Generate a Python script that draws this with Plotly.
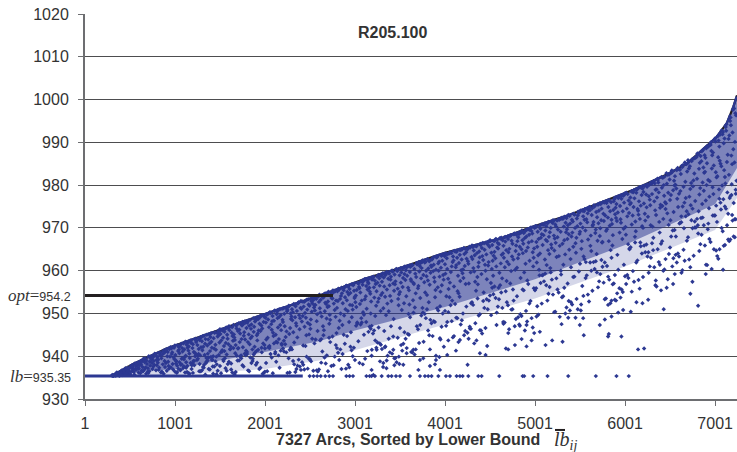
import plotly.graph_objects as go

TITLE = "R205.100"
OPT = 954.2
LB = 935.35
X_TICKS = [1, 1001, 2001, 3001, 4001, 5001, 6001, 7001]
Y_TICKS = [930, 940, 950, 960, 970, 980, 990, 1000, 1010, 1020]

# upper boundary of the cloud (sorted lower bound)
env_x = [314, 536, 906, 1276, 1646, 2016, 2386, 2756, 3126, 3500, 4001, 4612, 4979, 5350, 5723, 6094, 6464, 6686, 6834, 7020, 7131, 7205, 7244]
env_y = [935.6, 938.2, 941.8, 944.6, 947.3, 950.0, 952.6, 955.3, 958.2, 960.6, 964.2, 967.5, 970.3, 972.8, 975.9, 978.9, 982.5, 985.0, 987.8, 991.3, 994.5, 998.4, 1001]

# lower edges of the dense parts of the cloud
wide_x = [314, 1000, 2000, 2600, 3000, 4000, 5000, 6000, 7000, 7244]
wide_y = [935.4, 935.6, 937, 939, 941.5, 947.5, 953.5, 961, 969.5, 977]
core_x = [380, 1000, 2000, 2600, 3000, 4000, 5000, 6000, 7000, 7244]
core_y = [936, 937, 941, 943.5, 946, 951.5, 958, 966, 975.5, 984]

# arcs sitting exactly on the lower bound
floor_x = [2497, 2540, 2580, 2620, 2670, 2715, 2756, 2904, 2940, 2978, 3127, 3163, 3185, 3222, 3297, 3370, 3407, 3456, 3500, 3611, 3722, 3777, 3814, 3851, 3926, 4011, 4055, 4129, 4166, 4196, 4259, 4370, 4407, 4603, 4862, 4880, 4980, 5139, 5369, 5676, 5905, 6042]

# isolated arcs read individually
sparse_x = [6145, 6212, 6812, 6726, 6749, 6534, 6553, 6342, 6430, 6257, 6194, 6127, 6064, 5979, 5924, 5850, 5776, 5720, 5812, 5887, 5850, 5960, 5820, 5812, 5542, 5498, 5535, 5509, 5369, 5295, 5306, 5191, 5117, 5054, 4991, 4962, 4851, 4906, 4777, 4703, 4677, 4469, 4388, 4451, 4122, 4025, 4251, 3944, 3900, 3889, 3833, 3759, 3722, 3704, 3537, 3493, 3352, 3278, 3315, 3437, 3204, 3185, 4832, 4906, 5017, 4647, 4703, 4573, 4388, 4277, 4166, 4037, 3944, 3833, 3648, 3574, 3426, 3333, 3241, 3185, 6897, 6627, 7089, 7170, 7220, 7190, 7230, 7110, 7050]
sparse_y = [941.6, 941.8, 951.8, 954.6, 957.4, 956.9, 959.2, 957.7, 951.0, 953.2, 952.4, 952.6, 950.4, 950.8, 950.2, 949.3, 948.6, 947.3, 952.0, 953.2, 953.0, 944.6, 945.2, 944.6, 944.9, 947.3, 948.9, 950.7, 949.0, 947.5, 943.4, 943.7, 942.6, 945.7, 945.4, 943.7, 944.0, 942.3, 942.6, 941.6, 941.8, 942.4, 940.7, 940.3, 941.3, 940.3, 938.0, 936.8, 939.1, 938.1, 937.7, 939.5, 939.1, 936.8, 938.0, 938.2, 939.0, 938.8, 938.4, 939.5, 935.6, 936.8, 947.1, 947.3, 949.3, 948.0, 945.4, 947.3, 946.1, 946.5, 943.8, 943.7, 944.2, 941.6, 941.5, 940.7, 941.5, 942.1, 941.5, 940.1, 959.2, 959.5, 960.2, 967.3, 967.8, 973.0, 972.0, 966.0, 965.0]

# successive runs of arcs, ten values per row
arcs_0300 = [935.5,935.4,935.6,935.5,935.4,935.6,935.5,935.6,935.4,935.6,
935.7,936.1,935.5,935.9,936.2,935.6,936.0,935.8,936.2,935.5,
936.6,935.9,936.3,935.6,936.7,936.1,935.8,936.5,936.2,936.6,
936.4,937.2,935.7,936.9,937.0,936.2,937.3,935.9,936.6,937.1,
937.6,936.5,937.1,935.8,937.8,936.9,936.1,937.4,937.7,936.3,
938.2,937.0,936.2,938.4,937.7,935.7,938.0,936.8,938.3,937.3,
937.5,938.8,936.6,938.1,938.9,936.0,937.9,938.5,937.1,936.4,
939.3,936.9,938.6,939.5,937.4,935.9,939.0,938.2,936.3,939.4,
938.7,939.9,937.2,936.5,939.6,938.4,940.0,937.8,939.2,936.1,
940.4,938.0,939.7,936.7,940.6,937.6,939.1,940.2,938.9,937.0]
arcs_0800 = [939.8,940.9,937.3,938.5,936.2,940.6,939.2,937.9,940.2,936.8,
941.3,938.1,940.4,936.4,939.5,941.1,937.5,938.9,940.8,935.9,
937.1,941.7,939.9,938.4,941.4,936.6,940.0,941.0,938.7,937.7,
942.1,940.5,936.9,939.3,941.8,938.2,942.0,937.4,940.9,939.7,
938.8,942.5,941.2,936.1,940.3,942.2,937.8,939.0,941.5,942.6,
941.9,939.4,942.9,938.0,936.7,942.4,940.7,943.0,937.2,941.1,
943.2,937.6,941.6,939.8,943.4,940.1,938.6,942.7,936.3,942.0,
940.6,943.5,938.3,942.3,943.7,937.0,941.3,939.6,943.1,941.9,
943.9,941.0,939.1,944.1,937.9,942.8,943.3,940.8,938.9,943.6,
942.1,944.4,940.2,943.8,936.5,941.7,944.2,939.4,942.6,944.5]
arcs_1300 = [944.7,941.4,943.5,938.4,944.0,942.9,940.3,944.8,937.3,942.2,
939.7,945.1,943.0,941.2,944.5,938.7,945.0,942.5,940.6,943.9,
945.5,943.4,937.6,941.8,945.3,939.2,944.2,945.6,942.0,940.0,
941.5,945.8,944.6,939.9,943.2,945.9,938.1,942.7,944.9,945.4,
946.2,943.7,940.9,945.2,946.3,942.4,938.9,944.3,946.0,941.1,
944.1,946.6,942.8,945.7,939.5,946.4,943.1,946.7,940.4,945.0,
947.0,941.7,945.5,943.6,946.9,938.3,944.7,946.1,942.3,946.8,
943.8,947.3,946.5,940.7,945.1,947.4,942.6,944.4,939.0,947.1,
947.6,945.3,943.3,946.2,947.7,941.9,945.9,947.2,944.0,940.2,
946.6,948.0,942.1,947.5,944.8,945.6,948.1,943.9,947.9,941.3]
arcs_1800 = [948.3,945.1,947.1,942.8,948.5,944.2,946.4,940.5,947.8,943.3,
946.9,948.8,941.6,945.7,948.1,944.6,948.9,942.2,947.4,939.4,
949.1,946.0,943.7,948.4,949.2,945.3,941.2,947.6,948.7,944.9,
947.2,949.5,945.9,942.6,949.3,948.0,943.0,949.6,946.5,940.9,
949.9,944.3,948.6,950.0,946.8,941.8,949.0,947.9,943.9,949.7,
945.5,950.3,947.5,949.4,942.4,950.1,948.2,944.7,950.2,946.2,
950.6,948.9,943.4,950.7,946.7,949.8,941.0,948.3,950.4,945.0,
947.3,951.0,949.2,944.0,950.9,948.5,951.1,942.9,946.1,949.6,
951.4,945.8,950.5,948.0,951.2,943.6,949.9,947.0,951.3,944.5,
950.8,951.8,946.6,949.3,951.6,941.5,948.7,951.5,945.2,950.0]
arcs_2300 = [952.2,949.1,951.0,945.6,952.0,947.7,950.3,943.2,951.7,948.4,
946.3,952.5,950.6,948.9,952.6,944.4,951.3,949.6,952.3,947.1,
952.9,950.1,946.9,952.7,951.6,942.5,949.4,952.8,948.1,951.1,
953.2,950.9,947.8,953.3,952.1,945.1,951.8,953.0,949.0,944.9,
953.6,951.4,948.6,952.4,953.5,946.4,950.4,953.1,947.4,952.9,
954.0,949.8,953.8,951.9,945.9,953.4,950.7,954.0,948.2,952.0,
951.2,954.4,952.7,947.0,953.9,954.2,949.3,944.0,953.2,950.2,
954.7,952.2,948.8,954.5,951.5,953.7,946.1,954.6,950.5,952.5,
953.6,955.1,949.7,954.8,952.8,947.6,954.3,955.0,951.7,948.5,
955.4,953.0,950.8,954.9,945.4,955.2,952.3,953.5,949.2,955.3]
arcs_2800 = [955.6,952.9,954.1,948.3,955.8,951.3,953.4,946.6,955.2,950.0,
953.8,956.1,949.5,955.4,955.9,952.4,947.3,954.7,956.0,951.0,
956.5,953.1,955.0,950.6,956.3,954.4,948.0,955.7,952.0,956.4,
951.9,956.9,954.8,949.1,956.6,953.6,956.8,950.9,955.3,945.6,
957.2,955.5,952.6,957.0,947.9,954.2,956.2,957.1,951.5,953.9,
955.9,957.6,950.3,956.7,957.4,953.0,948.9,957.5,954.9,952.2,
958.0,954.0,956.4,951.1,957.8,955.6,957.3,949.7,958.0,953.3,
952.8,958.3,956.0,950.0,957.9,958.1,954.6,947.1,957.0,955.1,
958.7,956.9,953.7,958.5,951.8,957.7,958.6,955.2,949.4,956.1,
959.0,952.7,957.2,958.8,954.3,950.6,958.9,956.5,958.2,953.5]
arcs_3300 = [959.2,956.3,958.4,951.2,959.4,954.8,957.4,949.6,959.0,953.9,
957.9,959.7,955.6,952.3,959.5,958.1,950.5,959.3,956.6,954.1,
960.0,957.0,959.1,952.9,959.8,955.3,958.6,960.0,948.7,956.8,
955.8,960.4,958.9,953.4,960.2,957.5,951.9,959.9,960.3,954.5,
960.7,958.3,956.2,960.5,950.8,959.6,957.2,960.6,955.0,952.4,
961.0,957.8,960.1,954.0,960.8,958.8,961.0,956.0,949.9,959.2,
958.0,961.4,955.4,960.9,961.2,953.1,959.7,957.6,961.3,952.1,
961.7,959.3,956.9,961.5,954.7,960.4,961.6,958.5,951.4,957.1,
955.9,962.0,960.6,958.2,961.8,953.6,961.1,959.8,962.0,956.4,
962.3,957.3,961.9,954.9,962.1,960.0,958.7,962.4,950.2,959.0]
arcs_3800 = [962.5,959.5,961.2,954.3,962.7,957.7,960.5,952.6,962.2,956.7,
960.9,963.0,958.4,955.5,962.8,961.4,953.8,962.6,959.9,957.4,
963.3,960.2,962.1,956.1,963.1,958.6,961.7,963.2,951.7,960.0,
959.0,963.7,962.3,956.6,963.5,960.7,955.1,963.4,963.6,957.9,
964.0,961.5,959.3,963.8,954.0,962.9,960.4,963.9,958.1,955.7,
964.3,961.0,963.3,957.2,964.1,962.0,964.2,959.7,953.0,962.4,
961.3,964.6,958.8,964.4,964.5,956.3,963.0,960.8,964.6,955.2,
965.0,962.6,960.1,964.8,957.6,963.7,964.9,961.8,954.7,959.4,
958.3,965.3,963.9,961.1,965.1,956.9,964.3,962.8,965.2,960.3,
965.5,959.6,965.0,957.0,965.4,963.2,961.6,965.6,952.4,962.2]
arcs_4300 = [965.8,962.7,964.7,957.4,965.9,960.6,963.6,955.3,965.5,959.8,
964.1,966.2,961.9,958.5,966.0,964.5,956.8,965.7,963.1,960.9,
966.5,963.4,965.3,959.2,966.3,961.4,964.9,966.4,954.9,962.5,
962.0,966.8,965.6,960.0,966.6,963.8,958.0,966.7,966.1,961.2,
967.1,964.2,962.3,966.9,957.1,966.0,963.5,967.0,960.4,958.8,
967.4,964.4,966.5,961.0,967.2,965.2,967.3,962.9,956.0,965.4,
963.7,967.7,961.7,967.5,967.6,959.5,966.2,964.0,967.1,958.2,
968.0,965.8,963.0,967.8,960.8,966.8,967.9,964.8,957.6,962.1,
961.5,968.3,967.0,964.3,968.1,959.9,967.4,965.1,968.2,963.3,
968.6,962.6,968.4,960.2,968.5,966.3,964.6,968.7,955.6,965.9]
arcs_4800 = [968.9,965.6,967.8,960.7,969.0,963.8,966.9,958.3,968.6,962.9,
967.1,969.4,965.0,961.6,969.2,967.6,959.6,968.8,966.3,964.1,
969.7,966.6,968.4,962.3,969.5,964.6,968.0,969.6,957.7,965.4,
965.2,970.1,968.7,963.0,969.9,966.9,961.0,970.0,969.3,964.3,
970.4,967.4,965.6,970.2,960.2,969.1,966.7,970.3,963.6,961.9,
970.8,967.7,969.8,964.0,970.5,968.3,970.7,966.0,958.9,968.5,
966.9,971.1,964.8,970.9,971.0,962.6,969.4,967.2,970.4,961.3,
971.4,969.0,966.1,971.2,963.9,970.0,971.3,967.9,960.6,965.3,
964.7,971.8,970.3,967.5,971.6,963.2,970.8,968.2,971.7,966.5,
972.1,965.8,971.9,963.4,972.0,969.6,967.8,972.2,959.1,969.1]
arcs_5300 = [972.4,969.0,971.2,963.8,972.6,967.1,970.3,961.4,972.1,966.3,
970.6,973.0,968.5,964.9,972.8,971.0,962.7,972.3,969.7,967.4,
973.3,970.0,971.9,965.6,973.1,968.0,971.5,973.2,960.8,968.9,
968.6,973.8,972.2,966.4,973.5,970.4,964.2,973.6,972.9,967.7,
974.1,971.0,969.1,973.9,963.3,972.7,970.1,974.0,966.9,965.1,
974.5,971.3,973.4,967.3,974.2,971.9,974.4,969.4,962.0,972.0,
970.5,974.9,968.2,974.6,974.8,965.8,973.0,970.8,974.1,964.6,
975.3,972.5,969.6,975.0,967.0,973.7,975.2,971.4,963.9,968.8,
968.1,975.7,974.0,971.1,975.4,966.6,974.5,971.8,975.6,969.9,
976.1,969.3,975.8,966.7,976.0,973.3,971.6,975.9,961.9,972.9]
arcs_5800 = [976.3,972.4,974.9,966.9,976.5,970.5,973.9,964.8,976.0,969.7,
974.2,976.9,971.9,968.3,976.7,974.7,965.9,976.2,973.2,970.9,
977.3,973.6,975.6,968.9,977.0,971.6,975.1,977.2,963.7,972.3,
972.0,977.8,975.9,969.8,977.5,973.9,967.4,977.6,976.8,971.2,
978.2,974.5,972.7,977.9,966.2,976.4,973.5,978.1,970.2,968.4,
978.6,974.9,977.1,970.8,978.3,975.5,978.5,972.9,965.0,975.8,
974.0,979.1,971.5,978.8,979.0,969.2,976.9,974.4,978.2,967.9,
979.5,976.2,973.1,979.2,970.4,977.7,979.4,975.2,966.6,972.1,
971.7,980.0,977.8,974.8,979.6,970.0,978.4,975.7,979.8,973.3,
980.4,972.6,980.1,970.6,980.2,977.4,975.3,980.3,964.3,976.6]
arcs_6300 = [980.7,976.2,978.9,970.3,980.9,974.1,977.9,967.7,980.4,973.0,
978.3,981.5,975.4,971.4,981.2,979.0,968.9,980.6,977.1,974.7,
982.0,977.5,980.0,972.1,981.7,975.1,979.4,981.9,966.3,976.0,
975.7,982.8,980.3,973.4,982.4,978.2,970.7,982.5,981.3,974.4,
983.4,978.8,976.5,982.9,969.4,981.0,977.7,983.1,973.7,971.8,
984.0,979.2,982.1,974.9,983.5,980.1,983.8,976.8,968.0,979.9,
978.0,984.7,975.0,984.2,984.5,972.7,982.6,978.6,983.6,971.0,
985.3,980.8,977.0,984.9,973.9,983.2,985.1,979.6,969.9,975.9,
975.3,986.0,983.9,979.1,985.6,973.2,984.4,980.5,985.8,977.3,
986.6,976.3,986.2,974.5,986.4,982.7,979.7,986.7,970.1,981.1]
arcs_6800 = [987.2,981.5,985.2,973.9,987.4,979.3,983.8,970.6,986.8,977.8,
984.1,988.2,980.6,975.6,987.9,985.6,972.3,987.0,982.9,978.7,
989.1,983.1,986.4,976.4,988.6,980.0,985.1,988.9,969.7,981.2,
980.9,990.0,987.0,977.3,989.4,983.9,974.6,989.7,988.0,979.5,
990.9,984.6,981.8,990.2,972.9,987.6,983.0,990.6,977.9,975.2,
991.8,985.7,989.0,979.0,990.4,986.5,991.4,982.1,971.4,985.0,
984.4,992.8,979.9,991.9,992.4,976.7,989.8,983.5,990.9,974.3,
994.2,987.1,981.9,992.7,978.3,990.8,993.6,985.4,973.3,980.4,
980.2,995.8,991.6,984.9,994.0,977.0,992.3,986.9,995.0,982.4,
997.6,981.0,996.3,978.9,996.8,990.1,985.3,997.9,975.8,988.4]

# thinner scatter below the dense part of the cloud
fringe_1000 = [936.4,938.9,935.9,937.7,939.6,936.8,938.2,940.3,936.1,939.1,937.3,935.7,938.6,940.5,936.6,937.9,939.8,936.2,938.0,937.1,
940.1,935.8,938.4,936.9,939.3,937.5,936.3,940.4,938.8,935.9,937.0,939.5,936.7,938.3,940.0,937.6,936.0,939.0,938.1,936.5]
fringe_1500 = [937.2,940.6,936.1,941.8,938.5,936.9,939.7,941.2,937.6,935.9,940.1,938.0,941.6,936.5,939.2,937.9,942.0,936.3,940.8,938.7,
936.7,941.4,939.5,937.3,935.8,940.4,938.2,941.0,936.0,939.9,937.0,941.9,938.9,936.6,940.2,937.7,939.0,941.5,936.2,938.4]
fringe_2000 = [938.7,936.3,941.9,939.5,937.1,942.7,936.8,940.6,938.1,942.1,936.1,939.9,941.3,937.6,943.0,938.9,936.5,940.9,942.4,937.3,
939.2,936.0,941.6,938.4,942.8,936.9,940.2,937.8,939.7,942.0,936.4,941.1,938.0,943.2,937.0,940.5,936.2,939.4,941.8,938.6]
fringe_2500 = [940.2,937.1,943.7,939.1,936.6,944.6,941.4,938.3,942.9,936.9,940.8,944.1,937.7,942.2,939.7,945.0,936.4,941.9,938.8,943.3,
937.4,944.9,940.5,936.7,942.6,939.3,944.3,938.0,941.1,937.0,943.9,939.9,942.0,936.5,944.7,938.5,941.6,943.0,937.9,940.0]
fringe_3000 = [943.2,938.6,946.4,940.9,945.0,937.5,947.6,942.0,939.6,946.9,944.1,938.1,941.7,947.1,943.7,937.9,945.7,940.1,947.9,942.7,
939.1,946.0,944.6,941.2,937.2,947.4,943.0,939.9,945.3,940.6,948.0,942.3,938.4,946.7,944.3,941.5,947.0,939.4,945.9,943.5]
fringe_3500 = [946.0,941.3,949.5,943.9,940.4,948.2,945.2,951.0,942.6,947.3,939.8,950.2,944.7,941.9,948.9,946.6,943.1,950.7,940.9,947.7,
944.1,949.9,942.2,946.3,951.2,941.0,948.5,945.6,943.4,950.0,947.0,940.1,949.1,944.9,942.9,951.3,946.9,941.6,948.0,945.0]
fringe_4000 = [949.5,944.4,952.6,947.1,945.9,951.3,943.3,953.5,948.2,946.4,950.6,944.9,952.9,948.9,943.7,951.9,946.9,953.0,950.0,945.3,
949.0,947.7,953.8,944.1,951.0,948.4,946.0,952.2,943.0,950.3,945.5,953.3,947.4,949.8,944.7,952.0,948.0,951.6,946.6,953.9]
fringe_4500 = [952.3,947.6,955.6,950.2,948.7,954.2,946.3,956.9,951.3,949.4,953.6,947.0,955.9,951.9,948.1,954.9,949.8,956.3,953.0,946.7,
952.6,950.6,956.6,947.4,954.5,951.0,948.9,955.2,946.0,953.3,949.1,956.0,950.9,952.9,947.9,955.4,951.6,954.0,949.6,957.0]
fringe_5000 = [955.4,950.3,958.5,953.0,951.4,957.1,949.2,959.8,954.4,952.1,956.6,950.0,958.9,954.9,951.0,957.9,952.6,959.3,956.0,949.7,
955.6,953.4,959.6,950.7,957.5,954.0,951.7,958.2,949.0,956.2,952.9,959.0,953.8,955.9,950.4,958.6,954.6,957.0,952.3,960.0]
fringe_5500 = [958.3,953.3,961.4,956.1,954.7,960.0,952.4,962.7,957.2,955.0,959.6,953.0,961.9,957.9,954.1,960.9,955.6,962.2,959.0,952.8,
958.6,956.4,962.5,953.7,960.4,957.0,954.4,961.1,952.1,959.2,955.9,962.0,956.8,958.9,953.5,961.6,957.5,960.2,955.3,963.0]
fringe_6000 = [961.9,956.6,965.2,959.5,958.0,964.0,955.4,966.6,960.8,958.3,963.3,956.0,965.7,961.4,957.4,964.8,959.0,966.1,962.7,955.8,
962.0,959.9,966.4,956.9,964.3,960.3,957.8,965.0,955.1,963.0,958.7,965.9,960.0,962.4,956.3,965.5,961.0,963.9,958.5,966.9]
fringe_6500 = [967.0,961.4,971.2,964.6,962.9,969.9,960.4,972.7,965.9,963.3,968.7,961.0,971.8,966.7,962.3,970.6,964.0,972.1,968.0,960.8,
967.4,964.9,972.4,961.9,970.1,965.4,962.6,971.0,960.1,968.4,963.7,971.5,965.0,967.8,961.3,971.3,966.2,969.5,963.5,972.9]
fringe_7000 = [972.9,968.0,977.4,970.6,965.8,975.9,963.4,978.0,971.7,966.9,974.5,969.2,976.8,964.7,972.0,977.7,967.3,975.0,970.0,962.8]

runs = [(300, 800, arcs_0300), (800, 1300, arcs_0800), (1300, 1800, arcs_1300),
        (1800, 2300, arcs_1800), (2300, 2800, arcs_2300), (2800, 3300, arcs_2800),
        (3300, 3800, arcs_3300), (3800, 4300, arcs_3800), (4300, 4800, arcs_4300),
        (4800, 5300, arcs_4800), (5300, 5800, arcs_5300), (5800, 6300, arcs_5800),
        (6300, 6800, arcs_6300), (6800, 7243, arcs_6800)]
fringes = [(1000, 1500, fringe_1000), (1500, 2000, fringe_1500), (2000, 2500, fringe_2000),
           (2500, 3000, fringe_2500), (3000, 3500, fringe_3000), (3500, 4000, fringe_3500),
           (4000, 4500, fringe_4000), (4500, 5000, fringe_4500), (5000, 5500, fringe_5000),
           (5500, 6000, fringe_5500), (6000, 6500, fringe_6000), (6500, 7000, fringe_6500),
           (7000, 7243, fringe_7000)]

cloud_x, cloud_y = [], []
for b, (start, stop, vals) in enumerate(runs):
    step = (stop - start) / len(vals)
    for i, v in enumerate(vals):
        # lay each row of ten out in a different order so rows do not line up
        row, col = i // 10, i % 10
        k = (3, 7, 9, 1)[(row + b) % 4]
        pos = row * 10 + (col * k + row * 3 + b) % 10
        cloud_x.append(start + pos * step)
        cloud_y.append(v)
for b, (start, stop, vals) in enumerate(fringes):
    step = (stop - start) / len(vals)
    for i, v in enumerate(vals):
        pos = (i * 17 + b * 5) % len(vals)
        cloud_x.append(start + pos * step)
        cloud_y.append(v)

BLUE = "#2c3892"
DARK = "#231f20"
TEXT = "#333333"
SANS = "Liberation Sans, Arial, sans-serif"
SERIF = "Liberation Serif, Times New Roman, serif"
PW, PH = 652, 385.5   # plot area size
DOT = dict(symbol="diamond", size=3.4, color=BLUE)

fig = go.Figure()
# dense parts of the cloud
fig.add_trace(go.Scatter(x=env_x + wide_x[::-1], y=env_y + wide_y[::-1], mode="lines", fill="toself",
                         fillcolor="rgba(44,56,146,0.2)", line=dict(width=0), hoverinfo="skip"))
fig.add_trace(go.Scatter(x=env_x + core_x[::-1], y=env_y + core_y[::-1], mode="lines", fill="toself",
                         fillcolor="rgba(44,56,146,0.52)", line=dict(width=0), hoverinfo="skip"))
# boundary curve
fig.add_trace(go.Scatter(x=env_x, y=env_y, mode="lines", line=dict(color=DARK, width=2.2)))
fig.add_trace(go.Scatter(x=env_x, y=env_y, mode="lines", line=dict(color=BLUE, width=2.2, dash="14px,5px")))
# arcs
fig.add_trace(go.Scatter(x=cloud_x, y=cloud_y, mode="markers", marker=DOT))
fig.add_trace(go.Scatter(x=sparse_x, y=sparse_y, mode="markers", marker=DOT))
fig.add_trace(go.Scatter(x=floor_x, y=[LB] * len(floor_x), mode="markers", marker=DOT))
# lower bound and optimum lines
fig.add_trace(go.Scatter(x=[1, 2420], y=[LB, LB], mode="lines", line=dict(color=BLUE, width=3)))
fig.add_trace(go.Scatter(x=[1, 2756], y=[OPT, OPT], mode="lines", line=dict(color=DARK, width=3)))

fig.update_layout(
    width=737, height=452, showlegend=False,
    margin=dict(l=85, r=0, t=14, b=52.5),
    paper_bgcolor="white", plot_bgcolor="white",
    font=dict(family=SANS, size=16, color=TEXT),
    annotations=[
        dict(text=f"<b>{TITLE}</b>", xref="paper", yref="paper", x=(392 - 85) / PW, y=(399.5 - 33) / PH,
             yanchor="middle", showarrow=False, font=dict(size=16, color=TEXT)),
        dict(text="<b>7327 Arcs, Sorted by Lower Bound</b>", xref="paper", yref="paper",
             x=(542 - 85) / PW, xanchor="right", y=(399.5 - 440) / PH, yanchor="middle", showarrow=False,
             font=dict(size=16, color=TEXT)),
        dict(text="<i>lb</i><sub><i>ij</i></sub>", xref="paper", yref="paper", x=(552 - 85) / PW, xanchor="left",
             y=(399.5 - 441) / PH, yanchor="middle", showarrow=False, font=dict(family=SERIF, size=20, color=TEXT)),
        dict(text='<i>opt</i>=<span style="font-family:Liberation Sans;font-size:12.5px">954.2</span>',
             xref="paper", yref="y", x=-12 / PW, xanchor="right", y=OPT, yanchor="middle", showarrow=False,
             font=dict(family=SERIF, size=17, color=TEXT)),
        dict(text='<i>lb</i>=<span style="font-family:Liberation Sans;font-size:12.5px">935.35</span>',
             xref="paper", yref="y", x=-12 / PW, xanchor="right", y=LB, yanchor="middle", showarrow=False,
             font=dict(family=SERIF, size=17, color=TEXT)),
    ],
    shapes=[
        dict(type="line", xref="paper", yref="paper", x0=(555 - 85) / PW, x1=(565 - 85) / PW,
             y0=(399.5 - 430.5) / PH, y1=(399.5 - 430.5) / PH, line=dict(color=DARK, width=2)),
    ],
)
fig.update_xaxes(range=[1, 7244], tickmode="array", tickvals=X_TICKS, ticktext=[str(t) for t in X_TICKS],
                 showgrid=False, zeroline=False, showline=True, linecolor="#6d6e71", linewidth=2,
                 ticks="outside", ticklen=5, tickcolor="#6d6e71", tickwidth=1, ticklabelstandoff=4,
                 automargin=False, tickfont=dict(size=16, color=TEXT))
fig.update_yaxes(range=[930, 1020], tickmode="array", tickvals=Y_TICKS, ticktext=[str(t) for t in Y_TICKS],
                 showgrid=True, gridcolor="#4d4d4f", gridwidth=1, zeroline=False, showline=True,
                 linecolor="#6d6e71", linewidth=2, ticks="outside", ticklen=5, tickcolor="#6d6e71",
                 ticklabelstandoff=6, automargin=False, tickfont=dict(size=16, color=TEXT))

# the page's default 8px body margin would push the figure off the 737px window
fig.write_html("out.html", post_script="document.body.style.margin='0';",
               config={"displayModeBar": False})
